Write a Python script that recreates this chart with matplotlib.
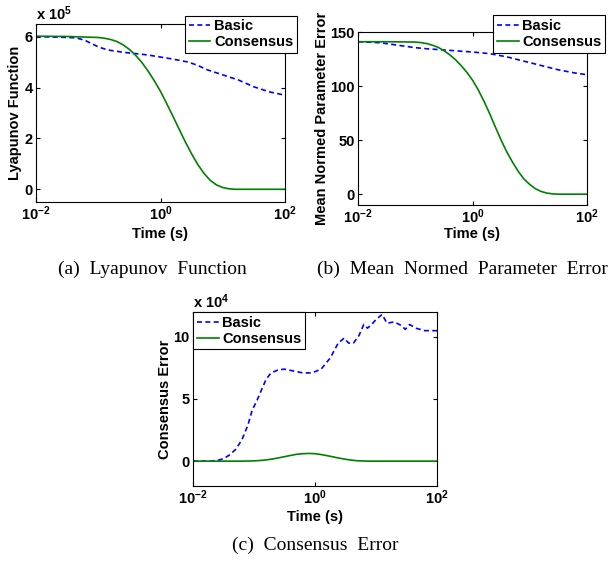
import numpy as np
import matplotlib
matplotlib.use('Agg')
import matplotlib.pyplot as plt
from matplotlib.ticker import FixedLocator, NullLocator

plt.rcParams['font.family'] = ['Liberation Sans', 'DejaVu Sans']
plt.rcParams['font.weight'] = 'bold'
plt.rcParams['mathtext.fontset'] = 'custom'
plt.rcParams['mathtext.rm'] = 'Liberation Sans:bold'
plt.rcParams['mathtext.bf'] = 'Liberation Sans:bold'
plt.rcParams['mathtext.default'] = 'bf'

# (a) Lyapunov function, units of 1e5 (times given as log10 exponents)
lyap_logt_basic = [-2, -1.6, -1.4, -1.3, -1.2, -1.1, -1.0, -0.9, -0.8, -0.6, -0.5, -0.3, -0.2,
                   0, 0.2, 0.45, 0.6, 0.75, 0.9, 1.0, 1.25, 1.5, 1.75, 2.0]
lyap_basic = [6.0, 5.98, 5.96, 5.92, 5.84, 5.72, 5.6, 5.52, 5.46, 5.39, 5.36, 5.31, 5.28,
              5.2, 5.12, 5.0, 4.87, 4.7, 4.58, 4.5, 4.3, 4.03, 3.83, 3.7]
lyap_logt_cons = [-2, -1.5, -1.0, -0.9, -0.8, -0.7, -0.6, -0.5, -0.4, -0.3, -0.2, -0.1, 0.0,
                  0.1, 0.2, 0.3, 0.4, 0.5, 0.6, 0.7, 0.8, 0.9, 1.0, 1.1, 1.2, 1.5, 2.0]
lyap_cons = [6.02, 6.01, 5.97, 5.94, 5.89, 5.81, 5.68, 5.5, 5.27, 4.99, 4.65, 4.27, 3.85,
             3.37, 2.87, 2.36, 1.86, 1.39, 0.97, 0.62, 0.35, 0.17, 0.07, 0.02, 0.0, 0.0, 0.0]

# (b) mean normed parameter error
mnpe_logt_basic = [-2, -1.6, -1.4, -1.2, -1.0, -0.8, -0.4, 0, 0.3, 0.6, 0.9, 1.2, 1.5, 1.8, 2.0]
mnpe_basic = [141, 140, 138.5, 137, 135.5, 134.5, 133, 131.5, 130, 127, 123, 119, 115, 112, 110.5]
mnpe_logt_cons = [-2, -1.5, -1.0, -0.9, -0.8, -0.7, -0.6, -0.5, -0.4, -0.3, -0.2, -0.1, 0,
                  0.1, 0.2, 0.3, 0.4, 0.5, 0.6, 0.7, 0.8, 0.9, 1.0, 1.1, 1.2, 1.3, 1.4, 1.5, 2.0]
mnpe_cons = [141, 141, 140.7, 140.2, 139.3, 137.8, 135.8, 132.8, 129, 124.5, 119, 112.8, 105.5,
             96.5, 86, 74.5, 62, 50, 39, 29.5, 21, 14, 9, 5, 2.5, 1, 0.3, 0, 0]

# (c) consensus error, units of 1e4
ce_logt_basic = [-2, -1.7, -1.6, -1.5, -1.4, -1.3, -1.2, -1.1, -1.03, -0.95, -0.88, -0.8, -0.72,
                 -0.6, -0.5, -0.4, -0.2, -0.05, 0.1, 0.25, 0.38, 0.48, 0.55, 0.63,
                 0.72, 0.8, 0.86, 0.93, 1.0, 1.1, 1.18, 1.3, 1.42, 1.48, 1.55,
                 1.65, 1.8, 2.0]
ce_basic = [0, 0, 0.05, 0.2, 0.5, 0.95, 1.7, 2.9, 4.1, 4.9, 5.7, 6.6, 7.1,
            7.35, 7.4, 7.3, 7.1, 7.1, 7.4, 8.3, 9.5, 9.9, 9.5, 9.5,
            10.1, 11.0, 10.7, 11.0, 11.4, 11.8, 11.1, 11.2, 10.9, 10.6, 11.0,
            10.7, 10.5, 10.5]
ce_logt_cons = [-2, -1.2, -1.0, -0.9, -0.8, -0.7, -0.6, -0.5, -0.4, -0.3, -0.2, -0.1, 0,
                0.1, 0.2, 0.3, 0.4, 0.5, 0.6, 0.7, 0.8, 0.9, 2.0]
ce_cons = [0, 0, 0.02, 0.05, 0.1, 0.17, 0.26, 0.36, 0.46, 0.55, 0.6, 0.62, 0.6,
           0.53, 0.44, 0.34, 0.24, 0.15, 0.08, 0.03, 0.01, 0, 0]

BLUE = '#0000ff'
GREEN = '#008000'

fig = plt.figure(figsize=(6.13, 5.62), dpi=100)
W, H = 613.0, 562.0


def make_axes(left, right, top, bottom):
    return fig.add_axes([left / W, 1 - bottom / H, (right - left) / W, (bottom - top) / H])


def style(ax, yticks, ylim, ylabel, ylab_x, xlab_y):
    ax.set_xscale('log')
    ax.set_xlim(1e-2, 1e2)
    ax.set_ylim(*ylim)
    ax.xaxis.set_major_locator(FixedLocator([1e-2, 1e0, 1e2]))
    ax.xaxis.set_minor_locator(NullLocator())
    ax.set_xticklabels([r'$10^{-2}$', r'$10^{0}$', r'$10^{2}$'])
    ax.set_yticks(yticks)
    ax.tick_params(direction='in', length=3, width=0.8, top=True, right=True,
                   labelsize=10.5, pad=2.5)
    ax.tick_params(axis='x', pad=1.5)
    for s in ax.spines.values():
        s.set_linewidth(0.8)
    ax.set_xlabel('Time (s)', fontsize=10.5, fontweight='bold', va='center')
    ax.xaxis.set_label_coords(0.5, xlab_y)
    ax.set_ylabel(ylabel, fontsize=10.5, fontweight='bold', va='center')
    ax.yaxis.set_label_coords(ylab_x, 0.5)


def draw(ax, tb, yb, tc, yc):
    ax.plot(10.0 ** np.array(tb), yb, color=BLUE, lw=1.2, ls='--', dashes=(3, 2), label='Basic')
    ax.plot(10.0 ** np.array(tc), yc, color=GREEN, lw=1.2, label='Consensus')


def legend(ax, anchor, loc):
    leg = ax.legend(loc=loc, bbox_to_anchor=anchor, borderaxespad=0, fancybox=False,
                    edgecolor='black', framealpha=1, handlelength=1.5,
                    handletextpad=0.25, borderpad=0.25, labelspacing=0.15,
                    prop={'size': 10.5, 'weight': 'bold'})
    leg.get_frame().set_linewidth(0.8)


# (a)
ax1 = make_axes(36, 285, 24, 202)
draw(ax1, lyap_logt_basic, lyap_basic, lyap_logt_cons, lyap_cons)
style(ax1, [0, 2, 4, 6], (-0.5, 6.5), 'Lyapunov Function', -0.084, -0.18)
ax1.set_yticklabels(['0', '2', '4', '6'])
legend(ax1, (1.048, 1.047), 'upper right')
ax1.text(0.0, 1.0 + 4 / 178, r'x 10$^{5}$', transform=ax1.transAxes, fontsize=10.5,
         fontweight='bold', ha='left', va='baseline')

# (b)
ax2 = make_axes(358, 587, 32, 205)
draw(ax2, mnpe_logt_basic, mnpe_basic, mnpe_logt_cons, mnpe_cons)
style(ax2, [0, 50, 100, 150], (-10, 150), 'Mean Normed Parameter Error', -0.157, -0.17)
legend(ax2, (1.079, 1.098), 'upper right')

# (c)
ax3 = make_axes(193, 437, 312, 486)
draw(ax3, ce_logt_basic, ce_basic, ce_logt_cons, ce_cons)
style(ax3, [0, 5, 10], (-2, 12), 'Consensus Error', -0.115, -0.178)
legend(ax3, (0.0, 1.0), 'upper left')
ax3.text(0.0, 1.0 + 4 / 174, r'x 10$^{4}$', transform=ax3.transAxes, fontsize=10.5,
         fontweight='bold', ha='left', va='baseline')

# captions
cap = dict(family=['Liberation Serif', 'DejaVu Serif'], fontweight='normal', fontsize=14)
fig.text(152 / W, 1 - 269 / H, '(a)  Lyapunov  Function', ha='center', va='center', **cap)
fig.text(317 / W, 1 - 269 / H, '(b)  Mean  Normed  Parameter  Error', ha='left', va='center', **cap)
fig.text(315 / W, 1 - 545 / H, '(c)  Consensus  Error', ha='center', va='center', **cap)

fig.savefig('out.png', dpi=100)
